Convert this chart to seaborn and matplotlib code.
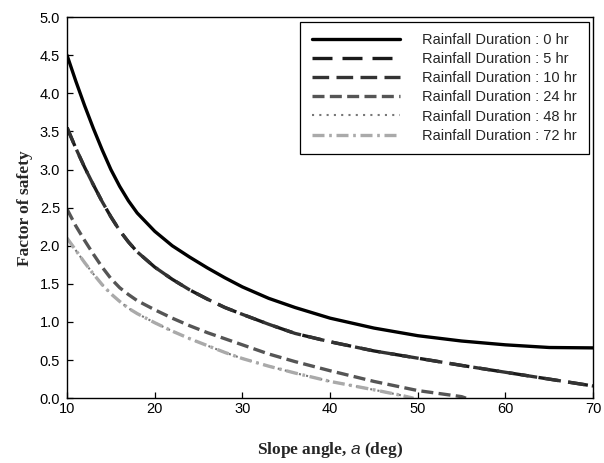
#!/usr/bin/env python3
import pandas as pd
import matplotlib
matplotlib.use("Agg")
import matplotlib.pyplot as plt
import seaborn as sns

# slope angle (deg) and factor of safety per rainfall duration
angle_full = [10, 11, 12, 13, 14, 15, 16, 17, 18, 20, 22, 24, 26, 28, 30, 33, 36, 40, 45, 50, 55, 60, 65, 70]
fs_0 = [4.50, 4.16, 3.84, 3.54, 3.26, 3.00, 2.78, 2.59, 2.43, 2.19, 2.00, 1.85, 1.71, 1.58, 1.46, 1.31, 1.19, 1.05, 0.92, 0.82, 0.75, 0.70, 0.665, 0.66]
fs_5 = [3.55, 3.28, 3.03, 2.80, 2.58, 2.38, 2.20, 2.05, 1.92, 1.72, 1.56, 1.42, 1.30, 1.19, 1.10, 0.97, 0.85, 0.74, 0.62, 0.525, 0.43, 0.34, 0.25, 0.16]
fs_10 = [3.55, 3.28, 3.03, 2.80, 2.58, 2.38, 2.20, 2.05, 1.92, 1.72, 1.56, 1.42, 1.30, 1.19, 1.10, 0.97, 0.85, 0.74, 0.62, 0.525, 0.43, 0.34, 0.25, 0.16]

angle_24 = [10, 11, 12, 13, 14, 15, 16, 17, 18, 20, 22, 24, 26, 28, 30, 33, 36, 40, 45, 50, 55, 55.5]
fs_24 = [2.48, 2.26, 2.07, 1.89, 1.72, 1.57, 1.45, 1.36, 1.28, 1.16, 1.05, 0.95, 0.86, 0.78, 0.70, 0.58, 0.48, 0.36, 0.22, 0.10, 0.02, 0.0]

angle_48 = [10, 11, 12, 13, 14, 15, 16, 17, 18, 20, 22, 24, 26, 28, 30, 33, 36, 40, 45, 48, 49.5]
fs_48 = [2.10, 1.94, 1.78, 1.63, 1.49, 1.37, 1.27, 1.18, 1.11, 0.99, 0.88, 0.78, 0.69, 0.60, 0.52, 0.42, 0.33, 0.22, 0.11, 0.04, 0.0]
angle_72 = [10, 11, 12, 13, 14, 15, 16, 17, 18, 20, 22, 24, 26, 28, 30, 33, 36, 40, 45, 48, 49.5]
fs_72 = [2.10, 1.94, 1.78, 1.63, 1.49, 1.37, 1.27, 1.18, 1.11, 0.99, 0.88, 0.78, 0.69, 0.60, 0.52, 0.42, 0.33, 0.22, 0.11, 0.04, 0.0]

durations = ["0", "5", "10", "24", "48", "72"]


def build_frame():
    parts = []
    for dur, xs, ys in [("0", angle_full, fs_0), ("5", angle_full, fs_5),
                        ("10", angle_full, fs_10), ("24", angle_24, fs_24),
                        ("48", angle_48, fs_48), ("72", angle_72, fs_72)]:
        parts.append(pd.DataFrame({"angle": xs, "fs": ys, "duration": dur}))
    return pd.concat(parts, ignore_index=True)


def main():
    sns.set_theme(style="white")
    plt.rcParams['font.family'] = ['Liberation Sans', 'DejaVu Sans']
    plt.rcParams['mathtext.fontset'] = 'custom'
    plt.rcParams['mathtext.it'] = 'Liberation Sans:italic'

    df = build_frame()

    # line styles per duration
    styles = {
        "0": dict(color="#000000", lw=2.4, ls="-"),
        "5": dict(color="#1a1a1a", lw=2.4, ls=(0, (6, 3))),
        "10": dict(color="#333333", lw=2.4, ls=(0, (5, 2.2))),
        "24": dict(color="#555555", lw=2.4, ls=(0, (3.6, 1.6))),
        "48": dict(color="#777777", lw=1.5, ls=(0, (1, 2.5))),
        "72": dict(color="#aaaaaa", lw=2.4, ls=(0, (3.6, 1.4, 0.8, 1.4))),
    }

    fig, ax = plt.subplots(figsize=(6.04, 4.63), dpi=100)
    fig.subplots_adjust(left=0.111, right=0.982, bottom=0.140, top=0.963)

    for dur in durations:
        st = styles[dur]
        sub = df[df["duration"] == dur]
        sns.lineplot(x="angle", y="fs", data=sub, ax=ax, color=st["color"],
                     linewidth=st["lw"], linestyle=st["ls"],
                     label=f"Rainfall Duration : {dur} hr", estimator=None,
                     sort=False)

    ax.set_xlim(10, 70)
    ax.set_ylim(0, 5)
    ax.set_xticks([10, 20, 30, 40, 50, 60, 70])
    ax.set_yticks([0, 0.5, 1, 1.5, 2, 2.5, 3, 3.5, 4, 4.5, 5])
    ax.set_yticklabels([f"{v:.1f}" for v in ax.get_yticks()])
    ax.tick_params(axis='both', direction='in', length=4, width=0.9,
                   labelsize=10.5, colors='black', left=True, bottom=True)
    ax.tick_params(axis='x', pad=3)
    ax.tick_params(axis='y', pad=5)
    for sp in ax.spines.values():
        sp.set_color('black')
        sp.set_linewidth(1.0)

    ax.set_xlabel(r"Slope angle, $\mathit{a}$ (deg)", fontsize=12.5,
                  fontweight='bold', family='Liberation Serif', labelpad=17)
    ax.set_ylabel("Factor of safety", fontsize=12.5, fontweight='bold',
                  family='Liberation Serif', labelpad=5)

    leg = ax.legend(loc='upper right', fontsize=10.5, handlelength=6.1,
                    handletextpad=1.5, labelspacing=0.35, borderpad=0.8,
                    borderaxespad=0.3, fancybox=False, framealpha=1,
                    edgecolor='black')
    leg.get_frame().set_linewidth(0.9)

    plt.savefig("out.png", dpi=100)
    plt.close()


if __name__ == "__main__":
    main()
